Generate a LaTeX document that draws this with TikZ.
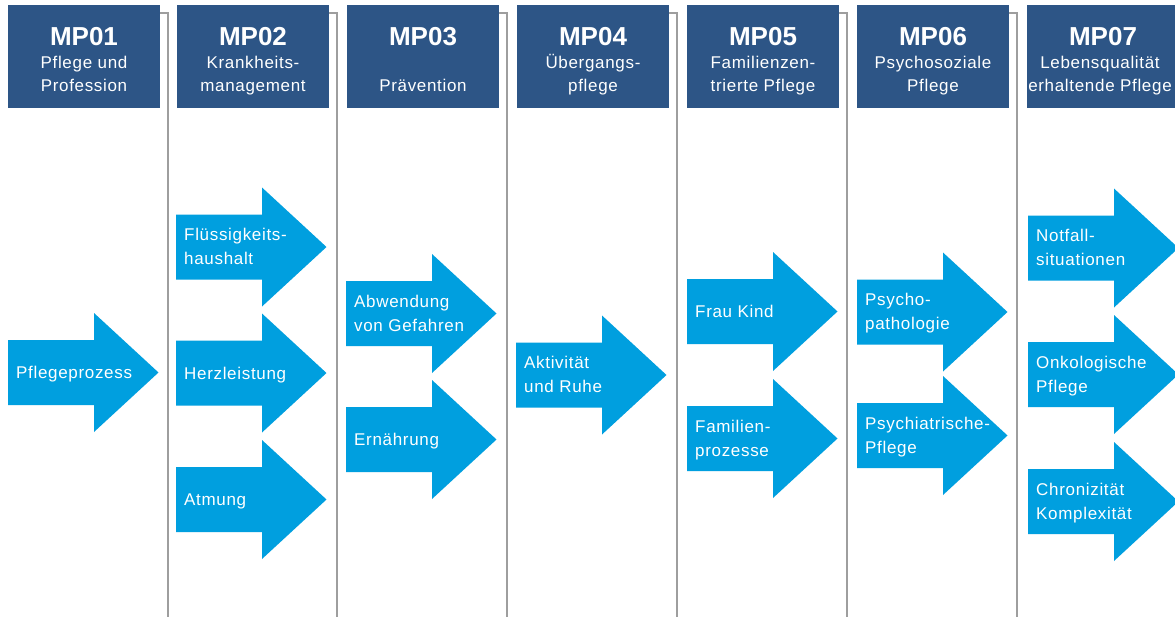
\documentclass[tikz,border=0pt]{standalone}
\usepackage{fontspec}
\setmainfont{Liberation Sans}
\newfontfamily\txtfont[LetterSpace=4]{Liberation Sans}
\definecolor{hdblue}{HTML}{2D5586}
\definecolor{arblue}{HTML}{009FDF}
\definecolor{lngray}{HTML}{9E9E9E}
\tikzset{
  hdbox/.style={fill=hdblue, draw=none},
  hdtitle/.style={text=white, font=\bfseries\fontsize{26}{30}\selectfont, anchor=base, inner sep=0pt},
  hdsub/.style={text=white, font=\txtfont\fontsize{17}{23}\selectfont, anchor=base, inner sep=0pt},
  artext/.style={text=white, font=\txtfont\fontsize{17}{24}\selectfont, anchor=base west, inner sep=0pt},
  sepline/.style={draw=lngray, line width=1.3pt},
  pics/bigarrow/.style={code={
    \fill[arblue] (0,-32.5) -- (86,-32.5) -- (86,-59.5) -- (150.5,0) -- (86,59.5) -- (86,32.5) -- (0,32.5) -- cycle;}}
}
\newcommand{\hdrbox}[6][0]{%
  \fill[hdbox] (#3,5) rectangle ++(152,103);
  \node[hdtitle] (h#2) at (#3+76,45) {#4};
  \node[hdsub] (h#2a) at (#3+76+#1,68) {#5};
  \node[hdsub] (h#2b) at (#3+76+#1,91) {#6};}
\newcommand{\hdrboxone}[4]{%
  \fill[hdbox] (#2,5) rectangle ++(152,103);
  \node[hdtitle] (h#1) at (#2+76,45) {#3};
  \node[hdsub] (h#1b) at (#2+76,91) {#4};}
\newcommand{\arrone}[4]{%
  \pic at (#2,#3) {bigarrow};
  \node[artext] (a#1) at (#2+8,#3+6) {#4};}
\newcommand{\arrtwo}[5]{%
  \pic at (#2,#3) {bigarrow};
  \node[artext] (a#1) at (#2+8,#3-6.5) {#4};
  \node[artext] (a#1b) at (#2+8,#3+17.5) {#5};}
\begin{document}
\begin{tikzpicture}[x=1pt,y=-1pt]
\useasboundingbox (0,0) rectangle (1175,616);
\clip (0,0) rectangle (1175,616);
\fill[white] (0,0) rectangle (1175,616);
% separator lines
\foreach \bx/\lx in {160/168, 329/337, 499/507, 669/677, 839/847, 1009/1017}{
  \draw[sepline] (\bx,13) -- (\lx,13) -- (\lx,620);
}
% headers
\hdrbox{1}{8}{MP01}{Pflege und}{Profession}
\hdrbox{2}{177}{MP02}{Krankheits-}{management}
\hdrboxone{3}{347}{MP03}{Prävention}
\hdrbox{4}{517}{MP04}{Übergangs-}{pflege}
\hdrbox{5}{687}{MP05}{Familienzen-}{trierte Pflege}
\hdrbox{6}{857}{MP06}{Psychosoziale}{Pflege}
\hdrbox[-3]{7}{1027}{MP07}{Lebensqualität}{erhaltende Pflege}
% arrows
\arrone{11}{8}{372.5}{Pflegeprozess}
\arrtwo{21}{176}{247}{Flüssigkeits-}{haushalt}
\arrone{22}{176}{373}{Herzleistung}
\arrone{23}{176}{499.5}{Atmung}
\arrtwo{31}{346}{313.5}{Abwendung}{von Gefahren}
\arrone{32}{346}{439.5}{Ernährung}
\arrtwo{41}{516}{375}{Aktivität}{und Ruhe}
\arrone{51}{687}{311.5}{Frau Kind}
\arrtwo{52}{687}{438.5}{Familien-}{prozesse}
\arrtwo{61}{857}{312}{Psycho-}{pathologie}
\arrtwo{62}{857}{435.5}{Psychiatrische-}{Pflege}
\arrtwo{71}{1028}{248}{Notfall-}{situationen}
\arrtwo{72}{1028}{374.5}{Onkologische}{Pflege}
\arrtwo{73}{1028}{501.5}{Chronizität}{Komplexität}
\end{tikzpicture}
\end{document}
